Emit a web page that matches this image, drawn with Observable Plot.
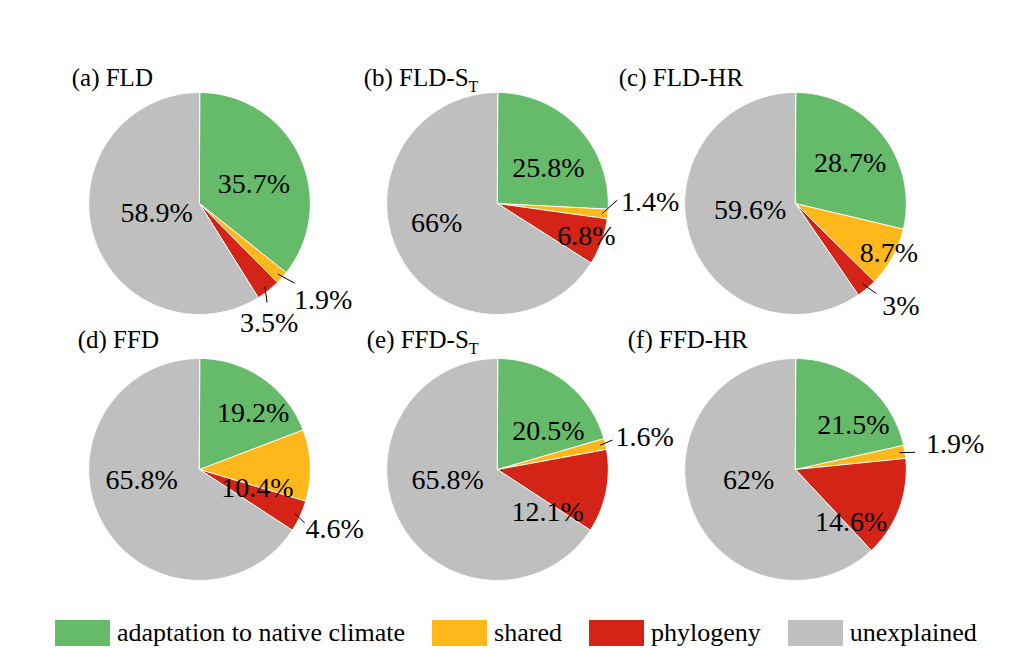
<!DOCTYPE html>
<html><head><meta charset="utf-8">
<script src="https://cdn.jsdelivr.net/npm/d3@7"></script>
<script src="https://cdn.jsdelivr.net/npm/@observablehq/plot@0.6"></script>
<style>
body{margin:0;background:#fff;font-family:"Liberation Serif",serif;}
#chart{width:1023px;}
#chart svg, #chart svg text, #chart svg tspan{font-family:"Liberation Serif",serif !important;}
.lg-swatches, .lg-swatch, .lg-swatch span{font-family:"Liberation Serif",serif !important;font-size:26px !important;color:#000 !important;}
.lg-swatch > svg{margin-right:7px !important;}
.lg-swatch{margin-right:27px !important;}
</style></head><body><div id="chart"></div>
<script>
// ---- data ----
const panels = ["(a) FLD", "(b) FLD-S_T", "(c) FLD-HR", "(d) FFD", "(e) FFD-S_T", "(f) FFD-HR"];
const categories = ["adaptation to native climate", "shared", "phylogeny", "unexplained"];
const adaptation = [35.7, 25.8, 28.7, 19.2, 20.5, 21.5];
const shared = [1.9, 1.4, 8.7, 10.4, 1.6, 1.9];
const phylogeny = [3.5, 6.8, 3, 4.6, 12.1, 14.6];
const unexplained = [58.9, 66, 59.6, 65.8, 65.8, 62];

// ---- styling / layout (not data) ----
const colors = ["#66bb6a", "#ffb81c", "#d42418", "#bfbfbf"];
const R = 111;
// per slice: [label radius px, angular nudge deg from slice mid-angle, (leader end radius, leader end nudge)]
const labelLayout = [
  [[58, 6], [157, -4, 124, -2], [138, 8, 120, 4], [44, 3]],
  [[62, 9], [153, -6, 120, -7], [95, 0], [64, 11]],
  [[68, 2], [106, -1], [147, -6, 121, -2], [46, 9]],
  [[78, 9], [61, 20], [148, -1, 118, 2], [59, 18]],
  [[64, 16], [151, 1, 119, -1], [66, 29], [51, 16]],
  [[73, 14], [162, 0, 121, 1], [77, 23], [48, 9]]
];
// title anchor offsets from pie centre (px): [dx, baseline dy upward]
const titleLayout = [[-128, 118], [-134, 118], [-177, 118], [-122, 122], [-131, 122], [-168, 122]];

const rad = d => d * Math.PI / 180;
const pol = (r, deg) => ({x: r * Math.sin(rad(deg)), y: r * Math.cos(rad(deg))});

const slices = [], labels = [], leaders = [], titles = [];
panels.forEach((p, i) => {
  const vals = [adaptation[i], shared[i], phylogeny[i], unexplained[i]];
  const total = d3.sum(vals);
  const col = i % 3, row = Math.floor(i / 3);
  titles.push({col, row, x: titleLayout[i][0], y: titleLayout[i][1], text: p});
  let acc = 0;
  vals.forEach((v, j) => {
    const a0 = acc / total * 360, a1 = (acc + v) / total * 360;
    acc += v;
    const id = `${i}-${j}`;
    slices.push({col, row, id, cat: categories[j], x: 0, y: 0});
    const n = Math.max(2, Math.ceil(a1 - a0));
    for (let k = 0; k <= n; k++) {
      const q = pol(R, a0 + (a1 - a0) * k / n);
      slices.push({col, row, id, cat: categories[j], x: q.x, y: q.y});
    }
    const mid = (a0 + a1) / 2;
    const L = labelLayout[i][j];
    const t = pol(L[0], mid + L[1]);
    labels.push({col, row, x: t.x, y: t.y, text: `${v}%`});
    if (L.length > 2) {
      const s = pol(R * 0.95, mid), e = pol(L[2], mid + L[3]);
      leaders.push({col, row, x1: s.x, y1: s.y, x2: e.x, y2: e.y});
    }
  });
});

const serif = "Liberation Serif";
const colW = 298.5, rowH = 266, mL = 48.75, mT = 70;
const plot = Plot.plot({
  width: 1023,
  height: 612,
  marginLeft: mL,
  marginRight: 1023 - mL - 3 * colW,
  marginTop: mT,
  marginBottom: 612 - mT - 2 * rowH,
  fx: {domain: [0, 1, 2], axis: null, padding: 0},
  fy: {domain: [0, 1], axis: null, padding: 0},
  x: {domain: [-colW / 2, colW / 2], axis: null},
  y: {domain: [-rowH / 2, rowH / 2], axis: null},
  color: {domain: categories, range: colors},
  style: {background: "white", color: "black", overflow: "visible"},
  marks: [
    Plot.line(slices, {fx: "col", fy: "row", x: "x", y: "y", z: "id", fill: "cat", stroke: "white", strokeWidth: 1, curve: "linear-closed"}),
    Plot.link(leaders, {fx: "col", fy: "row", x1: "x1", y1: "y1", x2: "x2", y2: "y2", stroke: "black", strokeWidth: 1}),
    Plot.text(labels, {fx: "col", fy: "row", x: "x", y: "y", text: "text", fontSize: 28, fontFamily: serif, fill: "black"}),
    Plot.text(titles, {fx: "col", fy: "row", x: "x", y: "y", text: "text", fontSize: 25, fontFamily: serif, fill: "black", textAnchor: "start", lineAnchor: "bottom"})
  ]
});

// subscripts in titles (S_T)
plot.querySelectorAll("text").forEach(t => {
  if (t.textContent.includes("_")) {
    const [main, sub] = t.textContent.split("_");
    t.textContent = main;
    const ts = document.createElementNS("http://www.w3.org/2000/svg", "tspan");
    ts.setAttribute("dy", "6");
    ts.setAttribute("font-size", "16");
    ts.textContent = sub;
    t.appendChild(ts);
  }
});

const legend = plot.legend("color", {
  swatchWidth: 55,
  swatchHeight: 26,
  className: "lg",
  style: {fontSize: "26px", marginLeft: "55px", marginTop: "4px", color: "black"}
});
const chart = document.getElementById("chart");
chart.appendChild(plot);
chart.appendChild(legend);
</script></body></html>
